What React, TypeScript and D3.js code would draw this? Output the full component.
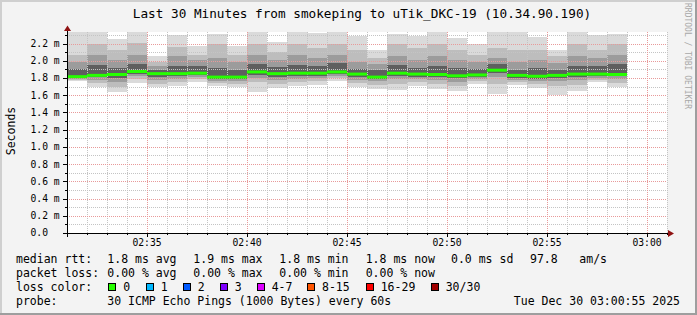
import React from "react";
import * as d3 from "d3";

// ---- data ----
const stepEnds = [
  "02:32", "02:33", "02:34", "02:35", "02:36", "02:37", "02:38", "02:39", "02:40", "02:41",
  "02:42", "02:43", "02:44", "02:45", "02:46", "02:47", "02:48", "02:49", "02:50", "02:51",
  "02:52", "02:53", "02:54", "02:55", "02:56", "02:57", "02:58", "02:59",
];
// RTT quantiles per step, in ms
const rttMax = [2.33, 2.33, 2.25, 2.33, 2.05, 2.30, 2.17, 2.31, 2.17, 2.33, 2.22, 2.33, 2.32, 2.33, 2.29, 2.12, 2.31, 2.29, 2.33, 2.26, 2.19, 2.33, 2.33, 2.28, 2.13, 2.33, 2.30, 2.31];
const rttP90 = [2.07, 2.19, 2.13, 2.21, 1.99, 2.16, 2.07, 2.19, 2.07, 2.19, 2.10, 2.20, 2.15, 2.19, 2.13, 2.035, 2.19, 2.15, 2.19, 2.13, 2.07, 2.15, 2.13, 2.13, 2.05, 2.19, 2.13, 2.19];
const rttP75 = [1.99, 2.07, 2.01, 2.07, 1.94, 2.06, 2.01, 2.035, 1.99, 2.07, 2.01, 2.07, 2.035, 2.07, 1.99, 1.965, 2.06, 2.01, 2.06, 2.01, 1.99, 2.035, 1.99, 2.01, 1.977, 2.05, 2.035, 2.07];
const rttP60 = [1.90, 1.95, 1.92, 1.965, 1.895, 1.94, 1.94, 1.92, 1.895, 1.965, 1.93, 1.95, 1.94, 1.977, 1.907, 1.895, 1.95, 1.92, 1.94, 1.92, 1.907, 1.965, 1.895, 1.92, 1.895, 1.94, 1.94, 1.965];
const rttMedian = [1.815, 1.83, 1.84, 1.875, 1.85, 1.85, 1.855, 1.81, 1.81, 1.87, 1.85, 1.855, 1.855, 1.87, 1.845, 1.81, 1.855, 1.845, 1.84, 1.825, 1.835, 1.89, 1.83, 1.82, 1.83, 1.845, 1.845, 1.84];
const rttP40 = [1.80, 1.81, 1.80, 1.85, 1.81, 1.825, 1.83, 1.79, 1.79, 1.84, 1.81, 1.825, 1.825, 1.85, 1.81, 1.79, 1.825, 1.81, 1.81, 1.80, 1.81, 1.86, 1.80, 1.79, 1.80, 1.81, 1.825, 1.825];
const rttP25 = [1.79, 1.78, 1.755, 1.825, 1.78, 1.79, 1.81, 1.77, 1.77, 1.80, 1.78, 1.79, 1.80, 1.825, 1.78, 1.76, 1.79, 1.79, 1.78, 1.755, 1.79, 1.81, 1.78, 1.77, 1.77, 1.78, 1.80, 1.79];
const rttP10 = [1.78, 1.745, 1.70, 1.79, 1.73, 1.755, 1.79, 1.745, 1.73, 1.755, 1.73, 1.755, 1.77, 1.80, 1.745, 1.72, 1.73, 1.755, 1.73, 1.71, 1.76, 1.73, 1.755, 1.73, 1.71, 1.72, 1.78, 1.745];
const rttMin = [1.76, 1.70, 1.64, 1.745, 1.69, 1.71, 1.755, 1.71, 1.70, 1.64, 1.685, 1.71, 1.72, 1.77, 1.70, 1.675, 1.66, 1.71, 1.675, 1.65, 1.73, 1.615, 1.72, 1.68, 1.605, 1.65, 1.755, 1.69];

const lossLabels = ["0", "1", "2", "3", "4-7", "8-15", "16-29", "30/30"];
const lossColors = ["#26ff00", "#00b8ff", "#0059ff", "#7e00ff", "#dd00ff", "#ff5500", "#ff0000", "#a10000"];
const rttStats = ["1.8 ms avg", "1.9 ms max", "1.8 ms min", "1.8 ms now", "0.0 ms sd"];
const lossStats = ["0.00 % avg", "0.00 % max", "0.00 % min", "0.00 % now"];
const amsValue = "97.8";
const amsUnit = "am/s";
const yTickValues = [0, 0.2, 0.4, 0.6, 0.8, 1.0, 1.2, 1.4, 1.6, 1.8, 2.0, 2.2];
const titleText = "Last 30 Minutes from smokeping to uTik_DKC-19 (10.34.90.190)";
const probeText = "30 ICMP Echo Pings (1000 Bytes) every 60s";
const dateText = "Tue Dec 30 03:00:55 2025";
const axisStart = "02:31";
const axisEnd = "03:01";

const parseT = (s: string) => new Date(2025, 11, 30, +s.slice(0, 2), +s.slice(3, 5));

const FONT = "'DejaVu Sans Mono', monospace";

export default function App() {
  const W = 697, H = 315;
  const left = 67, right = 667, top = 32, bottom = 233;

  const x = d3.scaleTime().domain([parseT(axisStart), parseT(axisEnd)]).range([left, right]);
  const y = d3.scaleLinear().domain([0, 2.2]).range([bottom, 43.5]);

  const ends = stepEnds.map(parseT);
  const bands: [number[], number[], string][] = [
    [rttMax, rttMin, "#dadada"],
    [rttP90, rttP10, "#bdbdbd"],
    [rttP75, rttP25, "#9c9c9c"],
    [rttP60, rttP40, "#5f5f5f"],
  ];

  const minorX = d3.timeMinute.every(1)!.range(parseT(axisStart), new Date(+parseT(axisEnd) + 1));
  const minorY = d3.range(0, 24).map((i) => i / 10);
  const isMajorX = (d: Date) => d.getMinutes() % 5 === 0;
  const majorXTicks = minorX.filter(isMajorX);
  const fmt = d3.timeFormat("%H:%M");
  const px = (v: number) => Math.round(v) + 0.5;

  const statX = [107.3, 193.3, 279.3, 365.7, 451];
  const boxX = [108.3, 145.7, 182.7, 219.7, 256.7, 307, 365.7, 430.7];
  const rows = [263, 277, 291, 305];

  return (
    <svg width={W} height={H} style={{ position: "absolute", left: 0, top: 0 }} fontFamily={FONT}>
      <defs>
        <clipPath id="cv">
          <rect x={left} y={top} width={right - left} height={bottom - top} />
        </clipPath>
      </defs>
      <rect x={0} y={0} width={W} height={H} fill="#f3f3f3" />
      {/* frame */}
      <rect x={0} y={0} width={W} height={2} fill="#cfcfcf" />
      <rect x={0} y={0} width={2} height={H} fill="#cfcfcf" />
      <rect x={0} y={H - 2} width={W} height={2} fill="#9e9e9e" />
      <rect x={W - 2} y={0} width={2} height={H} fill="#9e9e9e" />

      {/* canvas */}
      <rect x={left} y={top} width={right - left} height={bottom - top} fill="#ffffff" />

      {/* smoke */}
      <g clipPath="url(#cv)">
        {bands.map(([hi, lo, col], b) => (
          <g key={b}>
            {ends.map((t, i) => {
              const x0 = Math.round(x(d3.timeMinute.offset(t, -1)));
              const x1 = Math.round(x(t));
              const y0 = Math.round(y(hi[i]));
              const y1 = Math.round(y(lo[i]));
              return <rect key={i} x={x0} y={y0} width={x1 - x0} height={y1 - y0} fill={col} />;
            })}
          </g>
        ))}
      </g>

      {/* grid */}
      <g>
        {minorY.filter((v, i) => i % 2 === 1).map((v, i) => (
          <line key={"my" + i} x1={left} x2={right} y1={px(y(v))} y2={px(y(v))} stroke="#c4c4c4" strokeDasharray="1 1" />
        ))}
        {minorX.filter((d) => !isMajorX(d) && +d > +parseT(axisStart)).map((d, i) => (
          <line key={"mx" + i} x1={px(x(d))} x2={px(x(d))} y1={top} y2={bottom} stroke="#c4c4c4" strokeDasharray="1 1" />
        ))}
        {yTickValues.filter((v) => v > 0).map((v, i) => (
          <line key={"My" + i} x1={left} x2={right} y1={px(y(v))} y2={px(y(v))} stroke="#e89a9a" strokeDasharray="1 1" />
        ))}
        {majorXTicks.map((d, i) => (
          <line key={"Mx" + i} x1={px(x(d))} x2={px(x(d))} y1={top} y2={bottom} stroke="#e89a9a" strokeDasharray="1 1" />
        ))}
      </g>

      {/* median */}
      <g clipPath="url(#cv)">
        {ends.map((t, i) => {
          const x0 = Math.round(x(d3.timeMinute.offset(t, -1)));
          const x1 = Math.round(x(t));
          const ym = y(rttMedian[i]);
          return <line key={i} x1={x0} x2={x1} y1={ym} y2={ym} stroke={lossColors[0]} strokeWidth={3} />;
        })}
      </g>

      {/* axes */}
      <line x1={63} x2={669} y1={bottom + 0.5} y2={bottom + 0.5} stroke="#000" />
      <line x1={left + 0.5} x2={left + 0.5} y1={237} y2={30} stroke="#000" />
      <path d={`M668,${bottom - 3} L674,${bottom + 0.5} L668,${bottom + 4} Z`} fill="#8f1212" />
      <path d={`M${left - 3},31 L${left + 0.5},25.5 L${left + 4},31 Z`} fill="#8f1212" />
      {yTickValues.map((v, i) => (
        <line key={"yt" + i} x1={63} x2={left} y1={px(y(v))} y2={px(y(v))} stroke="#000" />
      ))}
      {minorY.filter((v, i) => i % 2 === 1).map((v, i) => (
        <line key={"ymt" + i} x1={65} x2={left} y1={px(y(v))} y2={px(y(v))} stroke="#000" />
      ))}
      {minorX.map((d, i) => (
        <line key={"xt" + i} x1={px(x(d))} x2={px(x(d))} y1={bottom} y2={isMajorX(d) ? bottom + 4 : bottom + 2} stroke="#000" />
      ))}

      {/* axis labels */}
      {yTickValues.map((v, i) => (
        <text key={"yl" + i} x={30.5} y={y(v)} dy="0.36em" fontSize={9.7} fill="#000">
          {v === 0 ? "0.0" : `${v.toFixed(1)} m`}
        </text>
      ))}
      {majorXTicks.filter((d) => x(d) > left + 10).map((d, i) => (
        <text key={"xl" + i} x={x(d)} y={246} textAnchor="middle" fontSize={9.7} fill="#000">
          {fmt(d)}
        </text>
      ))}
      <text transform="translate(15,131) rotate(-90)" textAnchor="middle" fontSize={11.5} fill="#000">Seconds</text>

      {/* title */}
      <text x={362} y={18} textAnchor="middle" fontSize={12.7} fill="#000">{titleText}</text>
      <text transform="translate(685,3) rotate(90)" fontSize={8} fill="#a8a8a8">RRDTOOL / TOBI OETIKER</text>

      {/* legend */}
      <g fontSize={11.5} fill="#000">
        <text x={16} y={rows[0]} xmlSpace="preserve">median rtt:</text>
        {rttStats.map((s, i) => (
          <text key={"rs" + i} x={statX[i]} y={rows[0]}>{s}</text>
        ))}
        <text x={530} y={rows[0]}>{amsValue}</text>
        <text x={579.3} y={rows[0]}>{amsUnit}</text>

        <text x={16} y={rows[1]}>packet loss:</text>
        {lossStats.map((s, i) => (
          <text key={"ls" + i} x={statX[i]} y={rows[1]}>{s}</text>
        ))}

        <text x={16} y={rows[2]}>loss color:</text>
        {lossLabels.map((s, i) => (
          <g key={"lc" + i}>
            <rect x={Math.round(boxX[i]) + 0.5} y={283.5} width={7} height={7} fill={lossColors[i]} stroke="#000" />
            <text x={boxX[i] + 15} y={rows[2]}>{s}</text>
          </g>
        ))}

        <text x={16} y={rows[3]}>probe:</text>
        <text x={107.3} y={rows[3]}>{probeText}</text>
        <text x={680} y={rows[3]} textAnchor="end">{dateText}</text>
      </g>
    </svg>
  );
}
